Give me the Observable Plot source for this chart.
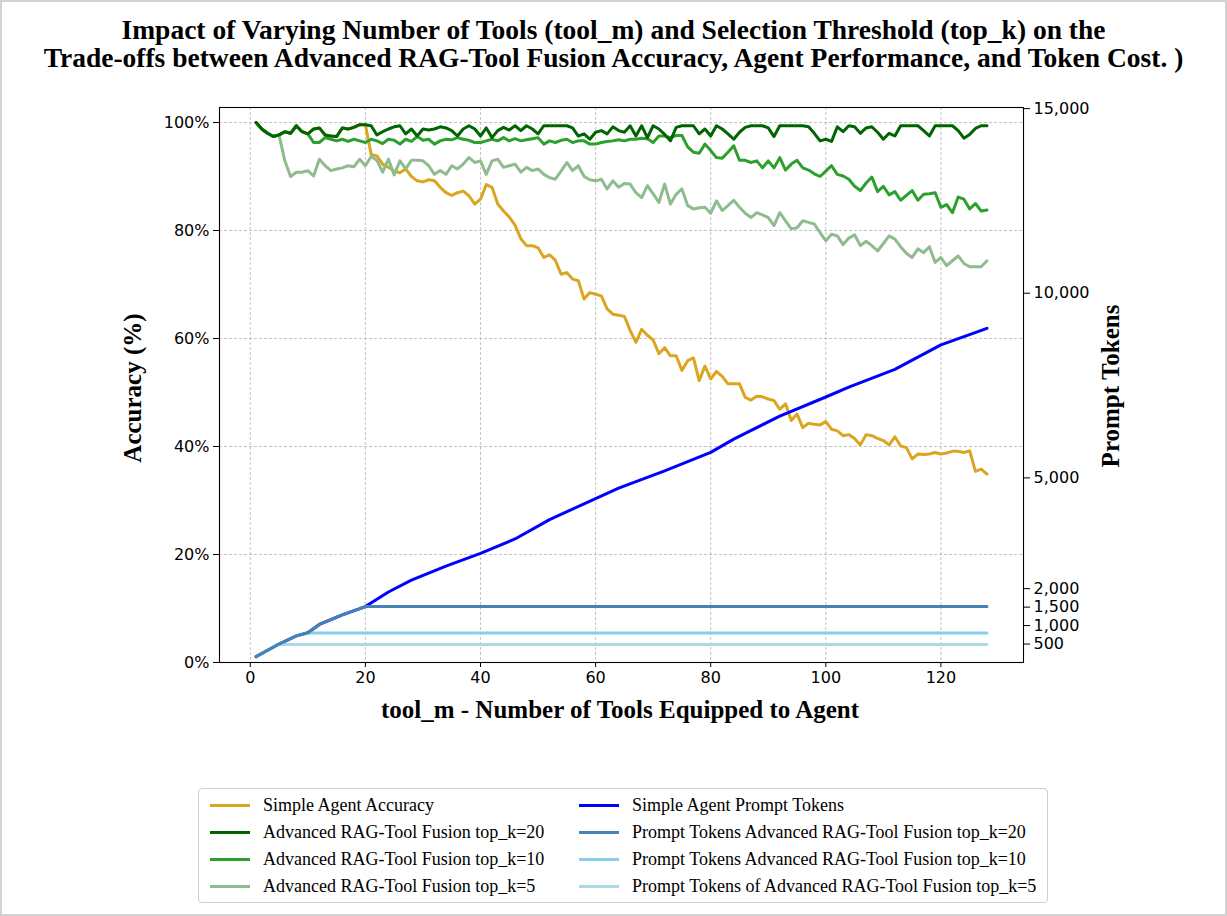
<!DOCTYPE html>
<html><head><meta charset="utf-8">
<script src="https://cdn.jsdelivr.net/npm/d3@7"></script>
<script src="https://cdn.jsdelivr.net/npm/@observablehq/plot@0.6"></script>
<style>
body{margin:0;background:#fff;width:1227px;height:916px;position:relative;overflow:hidden;}
#border{position:absolute;left:0;top:0;width:1227px;height:916px;box-sizing:border-box;border:2px solid #d2d2d2;pointer-events:none;z-index:5}
#title{position:absolute;left:0;top:16px;width:1227px;text-align:center;font-family:"Liberation Serif","Times New Roman",serif;font-weight:bold;font-size:27.5px;line-height:28px;color:#000}
#chart{position:absolute;left:0;top:0}
.lbl{position:absolute;font-family:"Liberation Serif","Times New Roman",serif;font-weight:bold;font-size:25px;color:#000;white-space:nowrap}
#xlabel{left:620px;top:710px;transform:translate(-50%,-50%)}
#ylabel{left:133px;top:388px;transform:translate(-50%,-50%) rotate(-90deg)}
#y2label{left:1111px;top:386px;transform:translate(-50%,-50%) rotate(-90deg)}
#legend{position:absolute;left:198px;top:788px;width:850px;height:115px;box-sizing:border-box;border:1px solid #cfcfcf;border-radius:4px;font-family:"Liberation Serif","Times New Roman",serif;font-size:18px;color:#000}
.item{position:absolute;height:20px;line-height:20px;white-space:nowrap}
.item .sw{position:absolute;left:0;top:9px;width:40px;height:3px}
.item .tx{position:absolute;left:53px;top:0}
</style></head><body>
<div id="border"></div>
<div id="title">Impact of Varying Number of Tools (tool_m) and Selection Threshold (top_k) on the<br>Trade-offs between Advanced RAG-Tool Fusion Accuracy, Agent Performance, and Token Cost. )</div>
<div id="chart"></div>
<div class="lbl" id="xlabel">tool_m - Number of Tools Equipped to Agent</div>
<div class="lbl" id="ylabel">Accuracy (%)</div>
<div class="lbl" id="y2label">Prompt Tokens</div>
<div id="legend"></div>
<script>
// ---- data ----
const toolM = d3.range(1, 129);
const simpleAcc = [100,98.8,98.0,97.4,97.7,98.3,98.0,99.4,98.3,97.9,
98.8,99.0,97.7,97.5,97.4,99.0,98.8,99.1,99.6,99.6,
94.1,93.8,92.3,91.7,91.0,90.7,91.4,90.0,89.2,89.0,
89.4,89.2,88.0,87.0,86.5,87.0,87.3,86.4,84.9,85.8,
88.5,88.0,84.9,83.6,82.5,81.0,78.5,77.2,77.2,76.8,
75.0,75.5,74.5,71.9,72.2,71.0,70.7,67.3,68.5,68.2,
67.9,65.5,64.5,64.3,64.1,61.5,59.3,61.7,60.6,59.7,
57.2,58.3,56.8,56.8,54.1,55.9,56.4,52.2,54.9,52.5,
53.9,53.0,51.6,51.6,51.6,49.1,48.6,49.3,49.2,48.8,
48.5,46.9,47.9,44.8,46.0,43.5,44.3,44.1,44.0,44.6,
43.2,42.9,42.0,42.2,41.5,40.3,42.2,42.0,41.5,41.1,
40.3,41.8,40.1,39.8,37.7,38.6,38.5,38.6,38.9,38.6,
38.8,39.1,39.1,38.9,39.2,35.4,35.8,34.9];
const ragK20Acc = [100,98.8,98.0,97.4,97.7,98.3,98.0,99.4,98.3,97.9,
98.8,99.0,97.7,97.5,97.4,99.0,98.8,99.1,99.6,99.6,
99.4,97.7,98.3,98.8,99.2,99.4,97.9,98.8,97.5,98.8,
98.6,98.8,99.2,99.0,98.5,97.5,98.8,99.4,98.8,97.5,
99.0,97.2,98.5,99.1,98.6,99.4,98.5,99.4,98.8,97.9,
99.4,99.4,99.4,99.4,99.4,99.0,97.5,97.9,96.9,98.2,
98.5,97.9,99.2,98.5,98.2,99.4,97.5,99.4,97.2,99.4,
98.8,97.8,96.6,99.1,99.4,99.4,99.4,97.9,98.8,97.5,
99.4,98.8,97.9,96.9,98.2,99.1,99.4,99.4,99.4,99.0,
97.4,99.4,99.4,99.4,99.4,99.4,99.2,98.0,96.6,96.9,
96.5,99.2,98.3,99.4,99.2,98.0,99.0,99.2,98.2,96.9,
98.0,97.5,99.4,99.4,99.4,99.4,98.5,97.5,99.4,99.4,
99.4,99.4,98.5,97.1,97.8,98.9,99.4,99.4];
const ragK10Acc = [100,98.8,98.0,97.4,97.7,98.3,98.0,99.4,98.3,97.9,
96.3,96.3,97.2,96.9,96.6,96.9,96.5,96.9,96.6,96.3,
96.9,96.6,96.1,96.9,96.7,96.0,96.9,96.5,97.4,96.7,
96.9,96.0,96.6,96.9,96.8,97.2,96.9,96.7,96.3,96.3,
96.6,96.9,96.6,97.2,96.6,97.0,96.6,96.8,97.0,97.2,
96.0,96.6,96.3,96.7,96.9,96.3,96.6,96.6,96.0,96.0,
96.3,96.5,96.6,96.8,96.6,96.9,96.9,97.1,97.0,96.3,
97.5,97.5,97.2,97.6,97.6,95.5,94.5,94.3,96.0,94.8,
93.5,93.4,94.5,95.7,93.0,93.0,92.6,92.9,91.6,92.9,
91.6,93.5,91.2,92.3,93.0,91.6,91.2,90.5,90.0,91.0,
92.0,90.4,90.1,89.5,88.2,87.4,88.8,89.9,87.2,88.2,
86.6,87.2,85.6,86.5,87.4,85.6,86.7,86.8,87.0,84.3,
84.8,83.3,86.2,85.8,84.0,85.0,83.6,83.8];
const ragK5Acc = [100,98.8,98.0,97.4,97.7,92.9,90.0,90.8,90.8,91.1,
90.1,93.2,92.0,91.1,91.4,91.6,92.0,91.8,93.2,92.0,
93.7,93.0,90.8,93.2,90.3,92.9,91.4,93.0,93.0,92.9,
92.0,90.4,91.1,90.4,92.0,91.4,92.3,93.5,92.6,92.9,
90.4,92.9,93.2,91.7,92.0,92.3,90.8,91.7,91.1,91.4,
90.4,89.8,89.5,91.0,92.6,91.1,92.0,90.0,89.4,89.2,
89.5,87.7,89.2,88.0,88.7,88.6,87.0,86.1,88.3,86.8,
85.2,88.6,84.9,86.7,87.7,84.6,84.0,84.2,84.3,83.2,
85.5,83.7,84.6,85.6,84.3,83.2,82.4,83.3,82.9,82.4,
80.9,83.3,81.8,80.3,80.5,81.8,81.5,81.2,79.6,78.1,
79.3,79.0,77.4,78.6,79.2,77.2,78.0,77.2,76.2,77.6,
79.0,78.4,77.0,75.8,75.0,76.6,75.9,77.0,74.1,75.0,
73.5,74.4,75.3,73.9,73.3,73.3,73.3,74.4];

const simpleTokX = [1,5,8,10,12,16,20,24,28,34,40,46,52,60,64,72,80,84,92,100,104,112,120,128];
const simpleTok  = [160,500,720,805,1030,1290,1515,1910,2230,2610,2955,3345,3870,4440,4720,5190,5690,6050,6670,7190,7460,7940,8600,9050];
const k20TokX = [1,5,8,10,12,16,20,128];
const k20Tok  = [160,500,720,805,1030,1290,1515,1515];
const k10TokX = [1,5,8,10,128];
const k10Tok  = [160,500,720,800,800];
const k5TokX  = [1,5,128];
const k5Tok   = [160,490,490];

const xTicks = [0,20,40,60,80,100,120];
const accTicks = [0,20,40,60,80,100];
const tokTicks = [500,1000,1500,2000,5000,10000,15000];

const legendLeft = [
  ["Simple Agent Accuracy","#DAA520"],
  ["Advanced RAG-Tool Fusion top_k=20","#006400"],
  ["Advanced RAG-Tool Fusion top_k=10","#2ca02c"],
  ["Advanced RAG-Tool Fusion top_k=5","#8fbc8f"]];
const legendRight = [
  ["Simple Agent Prompt Tokens","#0000ff"],
  ["Prompt Tokens Advanced RAG-Tool Fusion top_k=20","#4682b4"],
  ["Prompt Tokens Advanced RAG-Tool Fusion top_k=10","#87ceeb"],
  ["Prompt Tokens of Advanced RAG-Tool Fusion top_k=5","#add8e6"]];

// ---- build ----
const accMax = 102.78, tokMax = 15030;
const k = accMax / tokMax;
const accRows = arr => toolM.map((x, i) => ({x, y: arr[i]}));
const tokRows = (xs, vs) => xs.map((x, i) => ({x, y: vs[i] * k}));

const lw = 3;
const grid = {stroke: "#b5b5b5", strokeOpacity: 1, strokeDasharray: "3,2", strokeWidth: 0.8};
const chart = Plot.plot({
  width: 1227, height: 740,
  marginTop: 107, marginBottom: 78, marginLeft: 219, marginRight: 204,
  style: {fontFamily: "DejaVu Sans, sans-serif", fontSize: "16px", color: "#000", background: "transparent", overflow: "visible"},
  x: {domain: [-5.35, 134.35]},
  y: {domain: [0, accMax]},
  marks: [
    Plot.gridX(xTicks, grid),
    Plot.gridY(accTicks, grid),
    Plot.line(accRows(simpleAcc), {x: "x", y: "y", stroke: legendLeft[0][1], strokeWidth: lw}),
    Plot.line(accRows(ragK5Acc), {x: "x", y: "y", stroke: legendLeft[3][1], strokeWidth: lw}),
    Plot.line(accRows(ragK10Acc), {x: "x", y: "y", stroke: legendLeft[2][1], strokeWidth: lw}),
    Plot.line(accRows(ragK20Acc), {x: "x", y: "y", stroke: legendLeft[1][1], strokeWidth: lw}),
    Plot.line(tokRows(simpleTokX, simpleTok), {x: "x", y: "y", stroke: legendRight[0][1], strokeWidth: lw}),
    Plot.line(tokRows(k5TokX, k5Tok), {x: "x", y: "y", stroke: legendRight[3][1], strokeWidth: lw}),
    Plot.line(tokRows(k10TokX, k10Tok), {x: "x", y: "y", stroke: legendRight[2][1], strokeWidth: lw}),
    Plot.line(tokRows(k20TokX, k20Tok), {x: "x", y: "y", stroke: legendRight[1][1], strokeWidth: lw}),
    Plot.frame({stroke: "#000", strokeWidth: 1.1}),
    Plot.axisX(xTicks, {tickSize: 5, tickPadding: 4, label: null}),
    Plot.axisY(accTicks, {anchor: "left", tickSize: 6, tickPadding: 4, label: null, tickFormat: d => d + "%"}),
    Plot.axisY(tokTicks.map(t => t * k), {anchor: "right", tickSize: 6, tickPadding: 4, label: null,
      tickFormat: d => d3.format(",")(Math.round(d / k / 10) * 10)})
  ]
});
document.getElementById("chart").appendChild(chart);

// legend
const lg = document.getElementById("legend");
const rows = [16, 43, 70, 97];
function addItem(lbl, col, left, top) {
  const d = document.createElement("div");
  d.className = "item";
  d.style.left = left + "px";
  d.style.top = (top - 10) + "px";
  d.innerHTML = `<div class="sw" style="background:${col}"></div><div class="tx"></div>`;
  d.querySelector(".tx").textContent = lbl;
  lg.appendChild(d);
}
legendLeft.forEach(([l, c], i) => addItem(l, c, 11, rows[i]));
legendRight.forEach(([l, c], i) => addItem(l, c, 380, rows[i]));
</script>
</body></html>
